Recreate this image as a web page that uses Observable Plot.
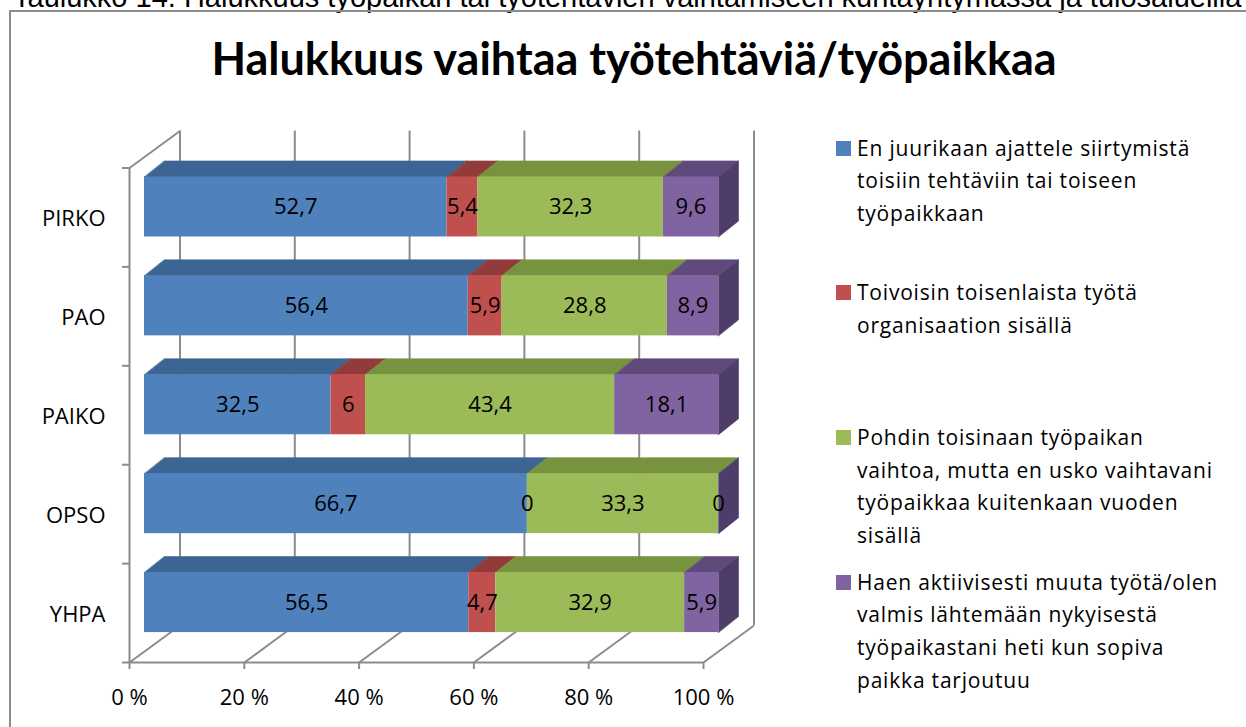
<!DOCTYPE html>
<html>
<head>
<meta charset="utf-8">
<script src="https://cdn.jsdelivr.net/npm/d3@7"></script>
<script src="https://cdn.jsdelivr.net/npm/@observablehq/plot@0.6"></script>
<style>
  html, body { margin: 0; padding: 0; background: #fff; }
  #page { position: relative; width: 1246px; height: 727px; overflow: hidden; background: #fff; font-family: "Open Sans", Lato, sans-serif; color: #000; }
  #caption { position: absolute; left: 13px; top: -15px; font: 29px/24px "Liberation Sans", Arial, sans-serif; white-space: nowrap; }
  #frame { position: absolute; left: 9px; top: 10px; width: 1400px; height: 900px; border: 2px solid #8c8c8c; box-sizing: border-box; }
  #title { position: absolute; left: 0; width: 1268px; top: 28px; text-align: center; font-family: Lato, "Open Sans", sans-serif; font-weight: 700; font-size: 45px; line-height: 60px; white-space: nowrap; }
  #chart { position: absolute; left: 0; top: 0; }
  .leg { position: absolute; left: 836px; width: 410px; }
  .leg .sw { position: absolute; left: 0; width: 15px; height: 15px; top: 9px; }
  .leg .tx { position: absolute; left: 21px; width: 400px; font-size: 21px; letter-spacing: 0.8px; line-height: 32.8px; white-space: nowrap; }
</style>
</head>
<body>
<div id="page">
  <div id="caption"></div>
  <div id="frame"></div>
  <div id="title"></div>
  <div id="chart"></div>
  <div id="legendBox"></div>
</div>
<script>
// ---------- data ----------
const captionText = "Taulukko 14. Halukkuus työpaikan tai työtehtävien vaihtamiseen kuntayhtymässä ja tulosalueilla";
const titleText = "Halukkuus vaihtaa työtehtäviä/työpaikkaa";
const categories = ["PIRKO", "PAO", "PAIKO", "OPSO", "YHPA"];
// legend labels, one array of lines per series (as wrapped in the legend)
const seriesLegendLines = [
  ["En juurikaan ajattele siirtymistä", "toisiin tehtäviin tai toiseen", "työpaikkaan"],
  ["Toivoisin toisenlaista työtä", "organisaation sisällä"],
  ["Pohdin toisinaan työpaikan", "vaihtoa, mutta en usko vaihtavani", "työpaikkaa kuitenkaan vuoden", "sisällä"],
  ["Haen aktiivisesti muuta työtä/olen", "valmis lähtemään nykyisestä", "työpaikastani heti kun sopiva", "paikka tarjoutuu"]
];
const enJuurikaan = [52.7, 56.4, 32.5, 66.7, 56.5];
const toivoisin   = [5.4, 5.9, 6, 0, 4.7];
const pohdin      = [32.3, 28.8, 43.4, 33.3, 32.9];
const haen        = [9.6, 8.9, 18.1, 0, 5.9];
const xTicks = [0, 20, 40, 60, 80, 100];
const xTickLabels = ["0 %", "20 %", "40 %", "60 %", "80 %", "100 %"];

// ---------- style ----------
const frontColors = ["#4F81BD", "#C0504D", "#9BBB59", "#8064A2"];
const topColors   = ["#3C6593", "#913C3A", "#779340", "#604A7C"];
const sideColor   = "#4F3D69";
const gridColor   = "#8c8c8c";
const labelFont = 22;

// ---------- layout ----------
const W = 800, H = 727;
const xRange = [144, 718];
const yRange = [157, 651.5];
const barFrac = 0.607;           // bar thickness as a share of the row
const off = (1 - barFrac) / 2;
const ux = px => px * 100 / (xRange[1] - xRange[0]);               // pixels -> x units
const uy = px => px * categories.length / (yRange[1] - yRange[0]); // pixels -> y units
const FRONT = {dx: -15, dy: 10.5};   // axis/floor front layer
const BACK  = {dx: 35.5, dy: -26.5}; // back wall layer
const DEPTH = {dx: 20, dy: -16};     // bar depth

// ---------- build segments ----------
const seriesValues = [enJuurikaan, toivoisin, pohdin, haen];
const segments = [];
categories.forEach((c, i) => {
  let acc = 0;
  seriesValues.forEach((vals, s) => {
    const v = vals[i];
    segments.push({row: i, cat: c, s, value: v, x1: acc, x2: acc + v});
    acc += v;
  });
});
const fmt = v => String(v).replace(".", ",");

// top faces as polygons (x,y in data units)
const topPolys = [];
segments.forEach((d, k) => {
  if (d.value <= 0) return;
  const yt = d.row + off;
  const pts = [
    [d.x1, yt], [d.x2, yt],
    [d.x2 + ux(DEPTH.dx), yt + uy(DEPTH.dy)],
    [d.x1 + ux(DEPTH.dx), yt + uy(DEPTH.dy)]
  ];
  pts.forEach(([x, y]) => topPolys.push({id: k, x, y, fill: topColors[d.s]}));
});
// right side faces (end of each bar)
const sidePolys = [];
categories.forEach((c, i) => {
  const end = segments.filter(d => d.row === i).reduce((m, d) => Math.max(m, d.x2), 0);
  const yt = i + off, yb = i + 1 - off;
  [[end, yt], [end + ux(DEPTH.dx), yt + uy(DEPTH.dy)], [end + ux(DEPTH.dx), yb + uy(DEPTH.dy)], [end, yb]]
    .forEach(([x, y]) => sidePolys.push({id: i, x, y}));
});

const n = categories.length;
const chart = Plot.plot({
  width: W, height: H,
  marginLeft: xRange[0], marginRight: W - xRange[1],
  marginTop: yRange[0], marginBottom: H - yRange[1],
  x: {domain: [0, 100], range: xRange, axis: null},
  y: {domain: [0, n], range: yRange, axis: null},
  color: {type: "identity"},
  style: {fontFamily: "'Open Sans', Lato, sans-serif", fontSize: labelFont + "px", background: "transparent", overflow: "visible"},
  marks: [
    // back wall gridlines
    Plot.ruleX(xTicks, {y1: 0, y2: n, stroke: gridColor, strokeWidth: 2, dx: BACK.dx, dy: BACK.dy}),
    // floor diagonals
    Plot.link(xTicks, {x1: d => d + ux(FRONT.dx), y1: n + uy(FRONT.dy), x2: d => d + ux(BACK.dx), y2: n + uy(BACK.dy), stroke: gridColor, strokeWidth: 2}),
    // top-left wall edge
    Plot.link([0], {x1: ux(FRONT.dx), y1: uy(FRONT.dy), x2: ux(BACK.dx), y2: uy(BACK.dy), stroke: gridColor, strokeWidth: 2}),
    // front floor edge and ticks
    Plot.ruleY([n], {x1: 0, x2: 100, stroke: gridColor, strokeWidth: 2, dx: FRONT.dx, dy: FRONT.dy}),
    Plot.ruleX(xTicks, {y1: n, y2: n + uy(7), stroke: gridColor, strokeWidth: 2, dx: FRONT.dx, dy: FRONT.dy}),
    // left axis line and ticks
    Plot.ruleX([0], {y1: 0, y2: n, stroke: gridColor, strokeWidth: 2, dx: FRONT.dx, dy: FRONT.dy}),
    Plot.ruleY(d3.range(n + 1), {x1: ux(-7), x2: 0, stroke: gridColor, strokeWidth: 2, dx: FRONT.dx, dy: FRONT.dy}),
    // bar top faces
    Plot.line(topPolys, {x: "x", y: "y", z: "id", fill: "fill", stroke: "fill", strokeWidth: 0.6, curve: "linear-closed"}),
    // bar side faces
    Plot.line(sidePolys, {x: "x", y: "y", z: "id", fill: sideColor, stroke: sideColor, strokeWidth: 0.6, curve: "linear-closed"}),
    // bar front faces
    Plot.rect(segments, {x1: "x1", x2: "x2", y1: d => d.row + off, y2: d => d.row + 1 - off, fill: d => frontColors[d.s], inset: 0}),
    // value labels
    Plot.text(segments, {x: d => (d.x1 + d.x2) / 2, y: d => d.row + 0.5, text: d => fmt(d.value), fill: "#000", fontSize: labelFont}),
    // category labels
    Plot.text(categories, {x: 0, y: (d, i) => i + 0.5, text: d => d, dx: -39, dy: 12, textAnchor: "end", fill: "#000", fontSize: labelFont}),
    // x tick labels
    Plot.text(xTicks, {x: d => d, y: n, text: (d, i) => xTickLabels[i], dx: FRONT.dx, dy: FRONT.dy + 35, fill: "#000", fontSize: labelFont})
  ]
});
document.getElementById("chart").appendChild(chart);
document.getElementById("caption").textContent = captionText;
document.getElementById("title").textContent = titleText;

// legend
const legendBox = document.getElementById("legendBox");
const legTop0 = 131.5, legStep = 144.7;
seriesLegendLines.forEach((lines, s) => {
  const item = document.createElement("div");
  item.className = "leg";
  item.style.top = (legTop0 + s * legStep) + "px";
  const sw = document.createElement("div");
  sw.className = "sw";
  sw.style.background = frontColors[s];
  const tx = document.createElement("div");
  tx.className = "tx";
  lines.forEach((ln, j) => {
    if (j) tx.appendChild(document.createElement("br"));
    tx.appendChild(document.createTextNode(ln));
  });
  item.appendChild(sw); item.appendChild(tx);
  legendBox.appendChild(item);
});
</script>
</body>
</html>
